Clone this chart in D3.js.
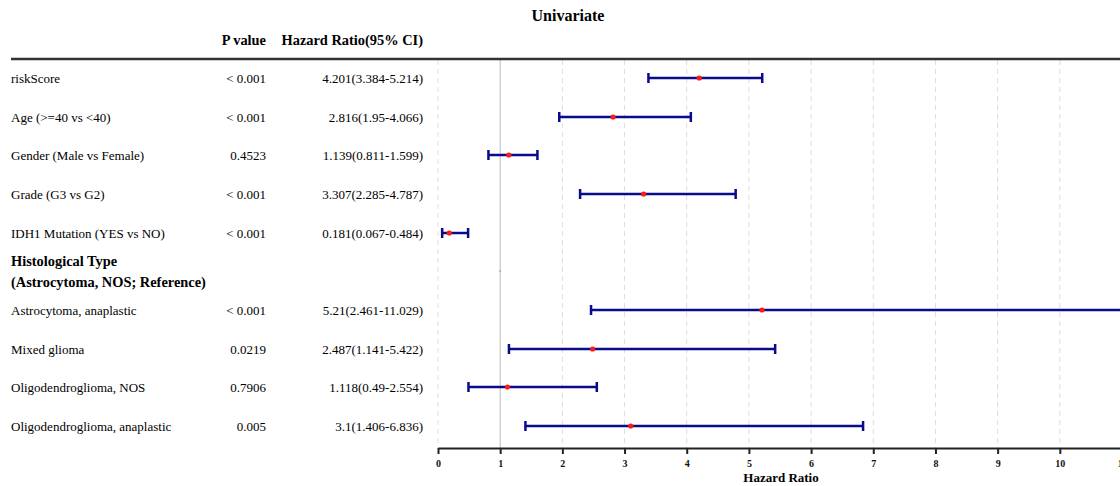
<!DOCTYPE html>
<html><head><meta charset="utf-8">
<script src="https://cdn.jsdelivr.net/npm/d3@7"></script>
<style>body{margin:0;background:#fff;} text{font-family:"Liberation Serif","Times New Roman",serif;}</style>
</head><body><svg id="c" width="1120" height="486"></svg>
<script>
const labels = ["riskScore","Age (>=40 vs <40)","Gender (Male vs Female)","Grade (G3 vs G2)","IDH1 Mutation (YES vs NO)","Histological Type|(Astrocytoma, NOS; Reference)","Astrocytoma, anaplastic","Mixed glioma","Oligodendroglioma, NOS","Oligodendroglioma, anaplastic"];
const pvals = ["< 0.001","< 0.001","0.4523","< 0.001","< 0.001","","< 0.001","0.0219","0.7906","0.005"];
const hrText = ["4.201(3.384-5.214)","2.816(1.95-4.066)","1.139(0.811-1.599)","3.307(2.285-4.787)","0.181(0.067-0.484)","","5.21(2.461-11.029)","2.487(1.141-5.422)","1.118(0.49-2.554)","3.1(1.406-6.836)"];
const hr = [4.201,2.816,1.139,3.307,0.181,null,5.21,2.487,1.118,3.1];
const lo = [3.384,1.95,0.811,2.285,0.067,null,2.461,1.141,0.49,1.406];
const hi = [5.214,4.066,1.599,4.787,0.484,null,11.029,5.422,2.554,6.836];
const ticks = [0,1,2,3,4,5,6,7,8,9,10,11];

const svg = d3.select("#c");
const x = d3.scaleLinear().domain([0,11]).range([438,1122]);
const rowY = [78,117,155,194,233,271,310,349,387,426];
const topY = 60, axisY = 448;

svg.append("text").attr("x",568).attr("y",21).attr("text-anchor","middle")
  .attr("font-weight","bold").attr("font-size",16).text("Univariate");
svg.append("text").attr("x",266).attr("y",45).attr("text-anchor","end")
  .attr("font-weight","bold").attr("font-size",14.4).text("P value");
svg.append("text").attr("x",423).attr("y",45).attr("text-anchor","end")
  .attr("font-weight","bold").attr("font-size",14.4).text("Hazard Ratio(95% CI)");

// grid
svg.append("defs").append("clipPath").attr("id","cp").append("rect")
  .attr("x",0).attr("y",0).attr("width",1120).attr("height",486);
svg.append("g").selectAll("line").data(ticks.filter(t=>t!==1)).join("line")
  .attr("x1",d=>x(d)).attr("x2",d=>x(d)).attr("y1",topY).attr("y2",axisY)
  .attr("stroke","#ddd").attr("stroke-width",1).attr("stroke-dasharray","5,4");
svg.append("line").attr("x1",x(1)).attr("x2",x(1)).attr("y1",topY).attr("y2",axisY)
  .attr("stroke","#bbb").attr("stroke-width",1);

svg.append("line").attr("x1",11).attr("x2",1120).attr("y1",topY-1).attr("y2",topY-1)
  .attr("stroke","#333").attr("stroke-width",2.5);

// left table
const g = svg.append("g").attr("font-size",13);
labels.forEach((l,i)=>{
  if(l.includes("|")){
    const parts = l.split("|");
    g.append("text").attr("x",11).attr("y",rowY[i]-5).attr("font-weight","bold").attr("font-size",14.4).text(parts[0]);
    g.append("text").attr("x",11).attr("y",rowY[i]+16).attr("font-weight","bold").attr("font-size",14.4).text(parts[1]);
    g.append("circle").attr("cx",x(1)).attr("cy",rowY[i]).attr("r",0.8).attr("fill","#888");
  } else {
    g.append("text").attr("x",11).attr("y",rowY[i]+4.5).text(l);
  }
  g.append("text").attr("x",266).attr("y",rowY[i]+4.5).attr("text-anchor","end").text(pvals[i]);
  g.append("text").attr("x",423).attr("y",rowY[i]+4.5).attr("text-anchor","end").text(hrText[i]);
});

// error bars
const data = hr.map((h,i)=>({h,l:lo[i],u:hi[i],y:rowY[i]})).filter(d=>d.h!==null);
const eb = svg.append("g").attr("clip-path","url(#cp)");
eb.selectAll(".ci").data(data).join("line").attr("class","ci")
  .attr("x1",d=>x(d.l)).attr("x2",d=>x(d.u)).attr("y1",d=>d.y).attr("y2",d=>d.y)
  .attr("stroke","#0a0a8c").attr("stroke-width",2.5);
eb.selectAll(".cl").data(data).join("line").attr("class","cl")
  .attr("x1",d=>x(d.l)).attr("x2",d=>x(d.l)).attr("y1",d=>d.y-5).attr("y2",d=>d.y+5)
  .attr("stroke","#0a0a8c").attr("stroke-width",2.5);
eb.selectAll(".cu").data(data).join("line").attr("class","cu")
  .attr("x1",d=>x(d.u)).attr("x2",d=>x(d.u)).attr("y1",d=>d.y-5).attr("y2",d=>d.y+5)
  .attr("stroke","#0a0a8c").attr("stroke-width",2.5);
eb.selectAll("circle").data(data).join("circle")
  .attr("cx",d=>x(d.h)).attr("cy",d=>d.y).attr("r",2.6).attr("fill","#ff1a1a");

// axis
const ax = svg.append("g").attr("transform",`translate(0,${axisY})`)
  .call(d3.axisBottom(x).tickValues(ticks).tickSize(6).tickSizeOuter(0).tickFormat(d3.format("d")));
ax.select(".domain").attr("stroke","#222").attr("stroke-width",2);
ax.selectAll(".tick line").attr("stroke","#222").attr("stroke-width",2);
ax.selectAll(".tick text").attr("y",12).attr("font-size",10).attr("font-weight","bold")
  .attr("font-family","'Liberation Serif',serif").attr("fill","#111");
svg.append("text").attr("x",781).attr("y",482).attr("text-anchor","middle")
  .attr("font-weight","bold").attr("font-size",13).text("Hazard Ratio");
</script></body></html>
